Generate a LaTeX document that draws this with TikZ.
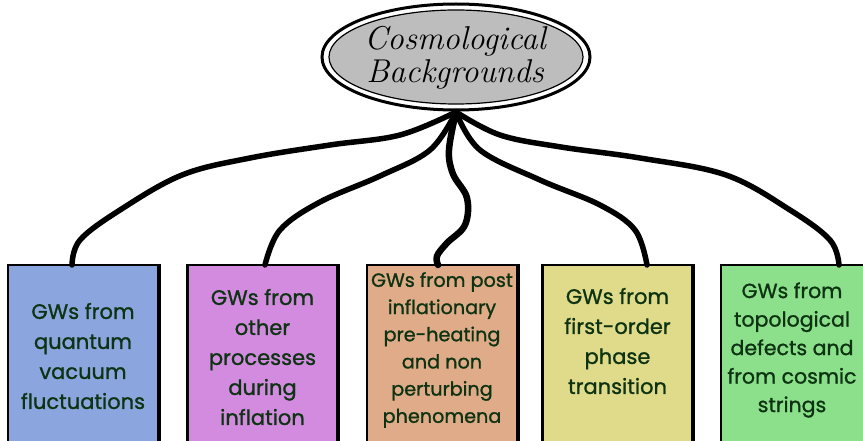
\documentclass[tikz,border=0pt]{standalone}
\usepackage{fontspec}
\setmainfont{Poppins}[FakeBold=1.1]
\newfontfamily\ttlfont{Latin Modern Roman}
\usetikzlibrary{shapes.geometric}
\definecolor{txt}{HTML}{0D3312}
\definecolor{cA}{HTML}{8BA5DF}
\definecolor{cB}{HTML}{D38BE0}
\definecolor{cC}{HTML}{E0AB88}
\definecolor{cD}{HTML}{E0DB8B}
\definecolor{cE}{HTML}{8CE08B}
\definecolor{ell}{HTML}{BDBDBD}
\tikzset{
  boxshape/.style={draw=black, line width=2.4pt, minimum width=150pt, minimum height=200pt, anchor=north, inner sep=0pt},
  boxtext/.style={text=txt, align=center, font=\fontsize{21}{30}\selectfont, inner sep=0pt},
  wire/.style={line width=5.5pt, line cap=round, line join=round},
  titlefont/.style={font=\ttlfont\itshape\fontsize{33}{33}\selectfont}
}
\begin{document}
\begin{tikzpicture}[x=1pt,y=-1pt]
\useasboundingbox (0,0) rectangle (863,441);
\clip (0,0) rectangle (863,441);
\fill[white] (0,0) rectangle (863,441);
% title ellipse
\node[ellipse, draw=black, line width=3pt, minimum width=268pt, minimum height=106pt, fill=white] (title) at (456,57) {};
\draw[line width=1.2pt, fill=ell] (title.center) ellipse [x radius=127pt, y radius=47pt];
\node[titlefont, align=center, text=black] (ttext) at (455,58) {Cosmological\\Backgrounds};
\coordinate (hub) at (456,112);
% boxes
\node[boxshape, fill=cA] (b1) at (83,264) {};
\node[boxshape, fill=cB] (b2) at (262.5,264) {};
\node[boxshape, fill=cC] (b3) at (442,264) {};
\node[boxshape, fill=cD] (b4) at (617.5,264) {};
\node[boxshape, fill=cE, minimum width=148pt] (b5) at (795,264) {};
\foreach \b in {b1,b2,b3,b4,b5}{
  \draw[line width=3.5pt] (\b.north east) -- (\b.south east);
}
% texts
\node[boxtext] (t1) at (83,356) {GWs from\\quantum\\vacuum\\fluctuations};
\node[boxtext] (t2) at (262.5,357) {GWs from\\other\\processes\\during\\inflation};
\node[boxtext, font=\fontsize{19.2}{27.2}\selectfont] (t3) at (442,350) {GWs from post\\inflationary\\pre-heating\\and non\\perturbing\\phenomena};
\node[boxtext] (t4) at (617.5,341) {GWs from\\first-order\\phase\\transition};
\node[boxtext, font=\fontsize{20.5}{28.5}\selectfont] (t5) at (792,350) {GWs from\\topological\\defects and\\from cosmic\\strings};
% connector end points
\coordinate (e1) at (72,265);
\coordinate (e2) at (265,265);
\coordinate (e3) at (438,265);
\coordinate (e4) at (647,265);
\coordinate (e5) at (839,265);
% connectors
\draw[wire] plot[smooth, tension=0.6] coordinates {(hub) (400,135) (330,145) (250,158) (182,175) (120,210) (80,240) (e1)};
\draw[wire] plot[smooth, tension=0.6] coordinates {(hub) (430,150) (380,176) (320,202) (280,230) (e2)};
\draw[wire, line width=6.5pt] plot[smooth, tension=0.6] coordinates {(hub) (449,150) (453,174) (467,198) (465,225) (447,243) (437,256) (e3)};
\draw[wire] plot[smooth, tension=0.6] coordinates {(hub) (480,150) (540,180) (600,205) (635,230) (e4)};
\draw[wire] plot[smooth, tension=0.6] coordinates {(hub) (500,135) (561,147) (640,158) (726,175) (790,210) (830,240) (e5)};
\end{tikzpicture}
\end{document}
